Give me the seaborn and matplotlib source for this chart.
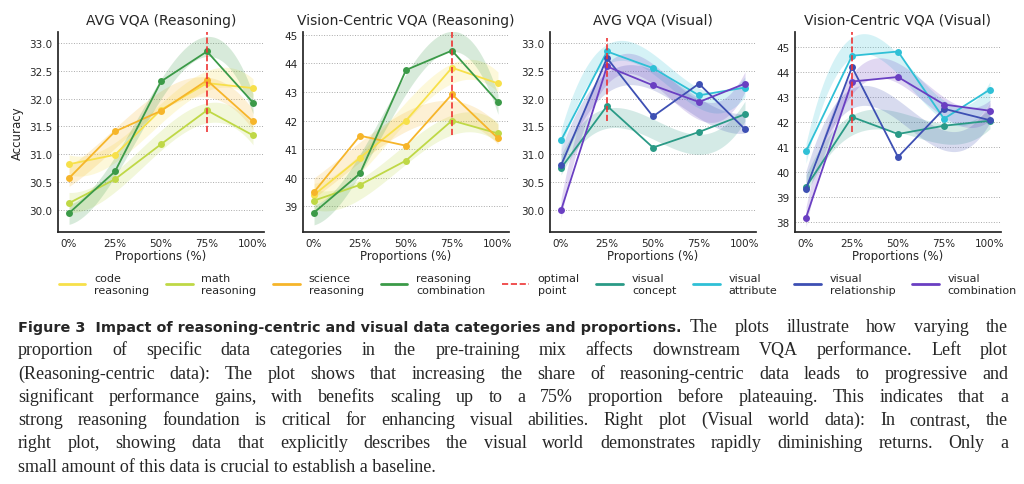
import numpy as np
import matplotlib
matplotlib.use('Agg')
import matplotlib.pyplot as plt
from matplotlib.lines import Line2D
import seaborn as sns

sns.set_theme(style='white')
plt.rcParams['font.family'] = ['DejaVu Sans']

props = [0, 25, 50, 75, 100]
prop_labels = ['0%', '25%', '50%', '75%', '100%']

# reasoning panels
avg_code = [30.82, 30.99, 31.80, 32.28, 32.19]
avg_math = [30.12, 30.55, 31.18, 31.79, 31.34]
avg_science = [30.57, 31.41, 31.78, 32.33, 31.59]
avg_combo = [29.94, 30.69, 32.31, 32.85, 31.93]
vc_code = [39.40, 40.70, 42.00, 43.85, 43.30]
vc_math = [39.20, 39.75, 40.60, 42.00, 41.55]
vc_science = [39.50, 41.47, 41.12, 42.92, 41.38]
vc_combo = [38.78, 40.15, 43.77, 44.45, 42.65]
# visual panels
avg_concept = [30.75, 31.87, 31.12, 31.40, 31.72]
avg_attribute = [31.25, 32.85, 32.55, 32.06, 32.20]
avg_relation = [30.80, 32.73, 31.68, 32.27, 31.45]
avg_vcombo = [29.99, 32.58, 32.24, 31.94, 32.27]
vcv_concept = [39.40, 42.20, 41.52, 41.85, 42.05]
vcv_attribute = [40.83, 44.65, 44.82, 42.13, 43.30]
vcv_relation = [39.33, 44.20, 40.60, 42.53, 42.07]
vcv_vcombo = [38.18, 43.62, 43.80, 42.70, 42.45]

reason_names = ['code\nreasoning', 'math\nreasoning', 'science\nreasoning', 'reasoning\ncombination']
reason_colors = ['#f7e04a', '#bfd846', '#f6b52a', '#3b9a48']
visual_names = ['visual\nconcept', 'visual\nattribute', 'visual\nrelationship', 'visual\ncombination']
visual_colors = ['#2a9a86', '#2fc0d6', '#3d4fb3', '#6a3fc2']

panels = [
    ('AVG VQA (Reasoning)', [avg_code, avg_math, avg_science, avg_combo], reason_colors,
     75, (31.4, 33.2), (29.6, 33.2), np.arange(30, 33.01, 0.5), '{:.1f}'),
    ('Vision-Centric VQA (Reasoning)', [vc_code, vc_math, vc_science, vc_combo], reason_colors,
     75, (41.5, 45.1), (38.1, 45.1), np.arange(39, 45.1, 1), '{:.0f}'),
    ('AVG VQA (Visual)', [avg_concept, avg_attribute, avg_relation, avg_vcombo], visual_colors,
     25, (31.6, 33.1), (29.6, 33.2), np.arange(30, 33.01, 0.5), '{:.1f}'),
    ('Vision-Centric VQA (Visual)', [vcv_concept, vcv_attribute, vcv_relation, vcv_vcombo], visual_colors,
     25, (41.6, 45.6), (37.6, 45.6), np.arange(38, 45.1, 1), '{:.0f}'),
]

fig = plt.figure(figsize=(10.24, 4.85), dpi=100)
lefts = [58, 303, 550, 795]
W, H = 1024, 485
xs = np.linspace(0, 100, 200)

for (title, series, colors, opt, vrange, ylim, yticks, fmt), lp in zip(panels, lefts):
    ax = fig.add_axes([lp / W, 1 - 233 / H, 206 / W, 200 / H])
    for vals, c in zip(series, colors):
        # cubic trend band from the points themselves
        coef = np.polyfit(props, vals, 3)
        fit = np.polyval(coef, xs)
        band = 0.05 * (ylim[1] - ylim[0])
        ax.fill_between(xs, fit - band, fit + band, color=c, alpha=0.2, lw=0)
        sns.lineplot(x=props, y=vals, color=c, marker='o', markersize=5,
                     markeredgewidth=0, lw=1.3, ax=ax)
    ax.vlines(opt, *vrange, colors='#ee3333', linestyles='--', lw=1.2)
    ax.set_xlim(-6, 106)
    ax.set_ylim(*ylim)
    ax.set_xticks(props)
    ax.set_xticklabels(prop_labels, fontsize=7.5)
    ax.set_yticks(yticks)
    ax.set_yticklabels([fmt.format(v) for v in yticks], fontsize=7.5)
    ax.grid(axis='y', ls=':', color='#aaaaaa', lw=0.7)
    ax.tick_params(length=2, pad=2)
    sns.despine(ax=ax)
    ax.set_title(title, fontsize=10, pad=6)
    ax.set_xlabel('Proportions (%)', fontsize=8.5, labelpad=1)
    if lp == 58:
        ax.set_ylabel('Accuracy', fontsize=8.5)

handles = [Line2D([], [], color=c, lw=2) for c in reason_colors]
handles.append(Line2D([], [], color='#ee3333', lw=1.2, ls='--'))
handles += [Line2D([], [], color=c, lw=2) for c in visual_colors]
labels = reason_names + ['optimal\npoint'] + visual_names
fig.legend(handles, labels, loc='center', bbox_to_anchor=(0.525, 1 - 285 / H), ncol=9,
           frameon=False, fontsize=8, handlelength=2.4, columnspacing=1.5,
           handletextpad=0.8)

# caption, justified to the text block width
serif = ['Liberation Serif', 'DejaVu Serif']
fs = 13
x_left, x_right = 18, 1008
lines = [
    'proportion of specific data categories in the pre-training mix affects downstream VQA performance.  Left plot',
    '(Reasoning-centric data): The plot shows that increasing the share of reasoning-centric data leads to progressive and',
    'significant performance gains, with benefits scaling up to a 75% proportion before plateauing. This indicates that a',
    'strong reasoning foundation is critical for enhancing visual abilities. Right plot (Visual world data): In contrast, the',
    'right plot, showing data that explicitly describes the visual world demonstrates rapidly diminishing returns. Only a',
]
last_line = 'small amount of this data is crucial to establish a baseline.'
renderer = fig.canvas.get_renderer()


def justify(words, x0, y, **kw):
    objs = [fig.text(0, y, w, fontsize=fs, family=serif, va='baseline', **kw) for w in words]
    widths = [o.get_window_extent(renderer).width for o in objs]
    gap = (x_right - x0 - sum(widths)) / max(len(words) - 1, 1)
    x = x0
    for o, w in zip(objs, widths):
        o.set_x(x / W)
        x += w + gap


y0 = 1 - 332 / H
step = 23.3 / H
t = fig.text(x_left / W, y0, 'Figure 3  Impact of reasoning-centric and visual data categories and proportions.',
             fontsize=10.4, fontweight='bold', va='baseline')
bb = t.get_window_extent(renderer)
justify('The plots illustrate how varying the'.split(), bb.x1 + 8, y0)
for i, ln in enumerate(lines):
    justify(ln.split(), x_left, y0 - (i + 1) * step)
fig.text(x_left / W, y0 - 6 * step, last_line, fontsize=fs, family=serif, va='baseline')

fig.savefig('out.png', dpi=100)
